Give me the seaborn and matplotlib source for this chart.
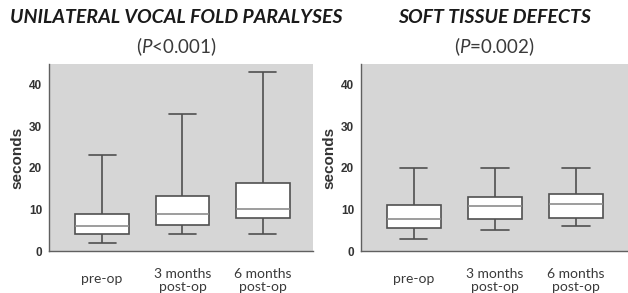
import matplotlib
matplotlib.use("Agg")
import matplotlib.pyplot as plt
import matplotlib.transforms as mtrans
import seaborn as sns
import pandas as pd

categories = ["pre-op", "3 months\npost-op", "6 months\npost-op"]
# five-number summaries per group: min, Q1, median, Q3, max (seconds)
uvfp_preop = [2, 4, 6, 9, 23]
uvfp_3m = [4, 6.3, 9, 13.3, 33]
uvfp_6m = [4, 8, 10, 16.4, 43]
std_preop = [2.8, 5.5, 7.7, 11, 20]
std_3m = [5, 7.7, 10.9, 13, 20]
std_6m = [6, 8, 11.2, 13.8, 20]

titles = ["UNILATERAL VOCAL FOLD PARALYSES", "SOFT TISSUE DEFECTS"]
subtitles = [r"($\mathit{P}$<0.001)", r"($\mathit{P}$=0.002)"]
yticks = [0, 10, 20, 30, 40]


def long_df(groups):
    rows = []
    for cat, vals in zip(categories, groups):
        for v in vals:
            rows.append({"group": cat, "seconds": v})
    return pd.DataFrame(rows)


panels = [long_df([uvfp_preop, uvfp_3m, uvfp_6m]),
          long_df([std_preop, std_3m, std_6m])]

sns.set_theme(style="white")
plt.rcParams["mathtext.fontset"] = "custom"
plt.rcParams["mathtext.it"] = "Lato:italic"
plt.rcParams["mathtext.rm"] = "Lato"

fig = plt.figure(figsize=(6.28, 2.93), dpi=100)
ax_pos = [[0.078, 0.1433, 0.420, 0.638], [0.575, 0.1433, 0.425, 0.638]]
xlims = [(-0.66, 2.62), (-0.65, 2.64)]
title_x = [0.28, 0.787]

edge = "#505050"
for i, df in enumerate(panels):
    ax = fig.add_axes(ax_pos[i])
    ax.set_facecolor("#d6d6d6")
    sns.boxplot(data=df, x="group", y="seconds", order=categories,
                whis=(0, 100), width=0.67, color="white", linecolor=edge,
                linewidth=1.2, ax=ax,
                medianprops={"color": "#8c8c8c", "linewidth": 1.2})
    ax.set_xlim(*xlims[i])
    ax.set_ylim(0, 45)
    ax.set_yticks(yticks)
    for s in ["top", "right"]:
        ax.spines[s].set_visible(False)
    for s in ["left", "bottom"]:
        ax.spines[s].set_color("#606060")
        ax.spines[s].set_linewidth(1.0)
    ax.tick_params(axis="y", length=4, width=1, color="#606060", pad=1,
                   labelsize=8.5, labelcolor="#333333")
    ax.tick_params(axis="x", length=0, pad=12, labelsize=10, labelcolor="#3a3a3a")
    for lab in ax.get_yticklabels():
        lab.set_fontfamily("Liberation Sans")
        lab.set_fontweight("bold")
    for j, lab in enumerate(ax.get_xticklabels()):
        lab.set_fontfamily("Lato")
        lab.set_linespacing(1.1)
        if j == 0:
            lab.set_transform(lab.get_transform() +
                              mtrans.ScaledTranslation(0, -4 / 72, fig.dpi_scale_trans))
    ax.set_xlabel("")
    ax.set_ylabel("seconds", fontsize=11, fontweight="bold",
                  fontfamily="Liberation Sans", color="#333333", labelpad=3)
    fig.text(title_x[i], 0.94, titles[i], ha="center", va="center",
             fontsize=14, fontweight="bold", fontstyle="italic",
             fontfamily="Lato", color="#1a1a1a")
    fig.text(title_x[i], 0.84, subtitles[i], ha="center", va="center",
             fontsize=13.5, fontfamily="Lato", color="#3a3a3a")

fig.savefig("out.png", dpi=100)
